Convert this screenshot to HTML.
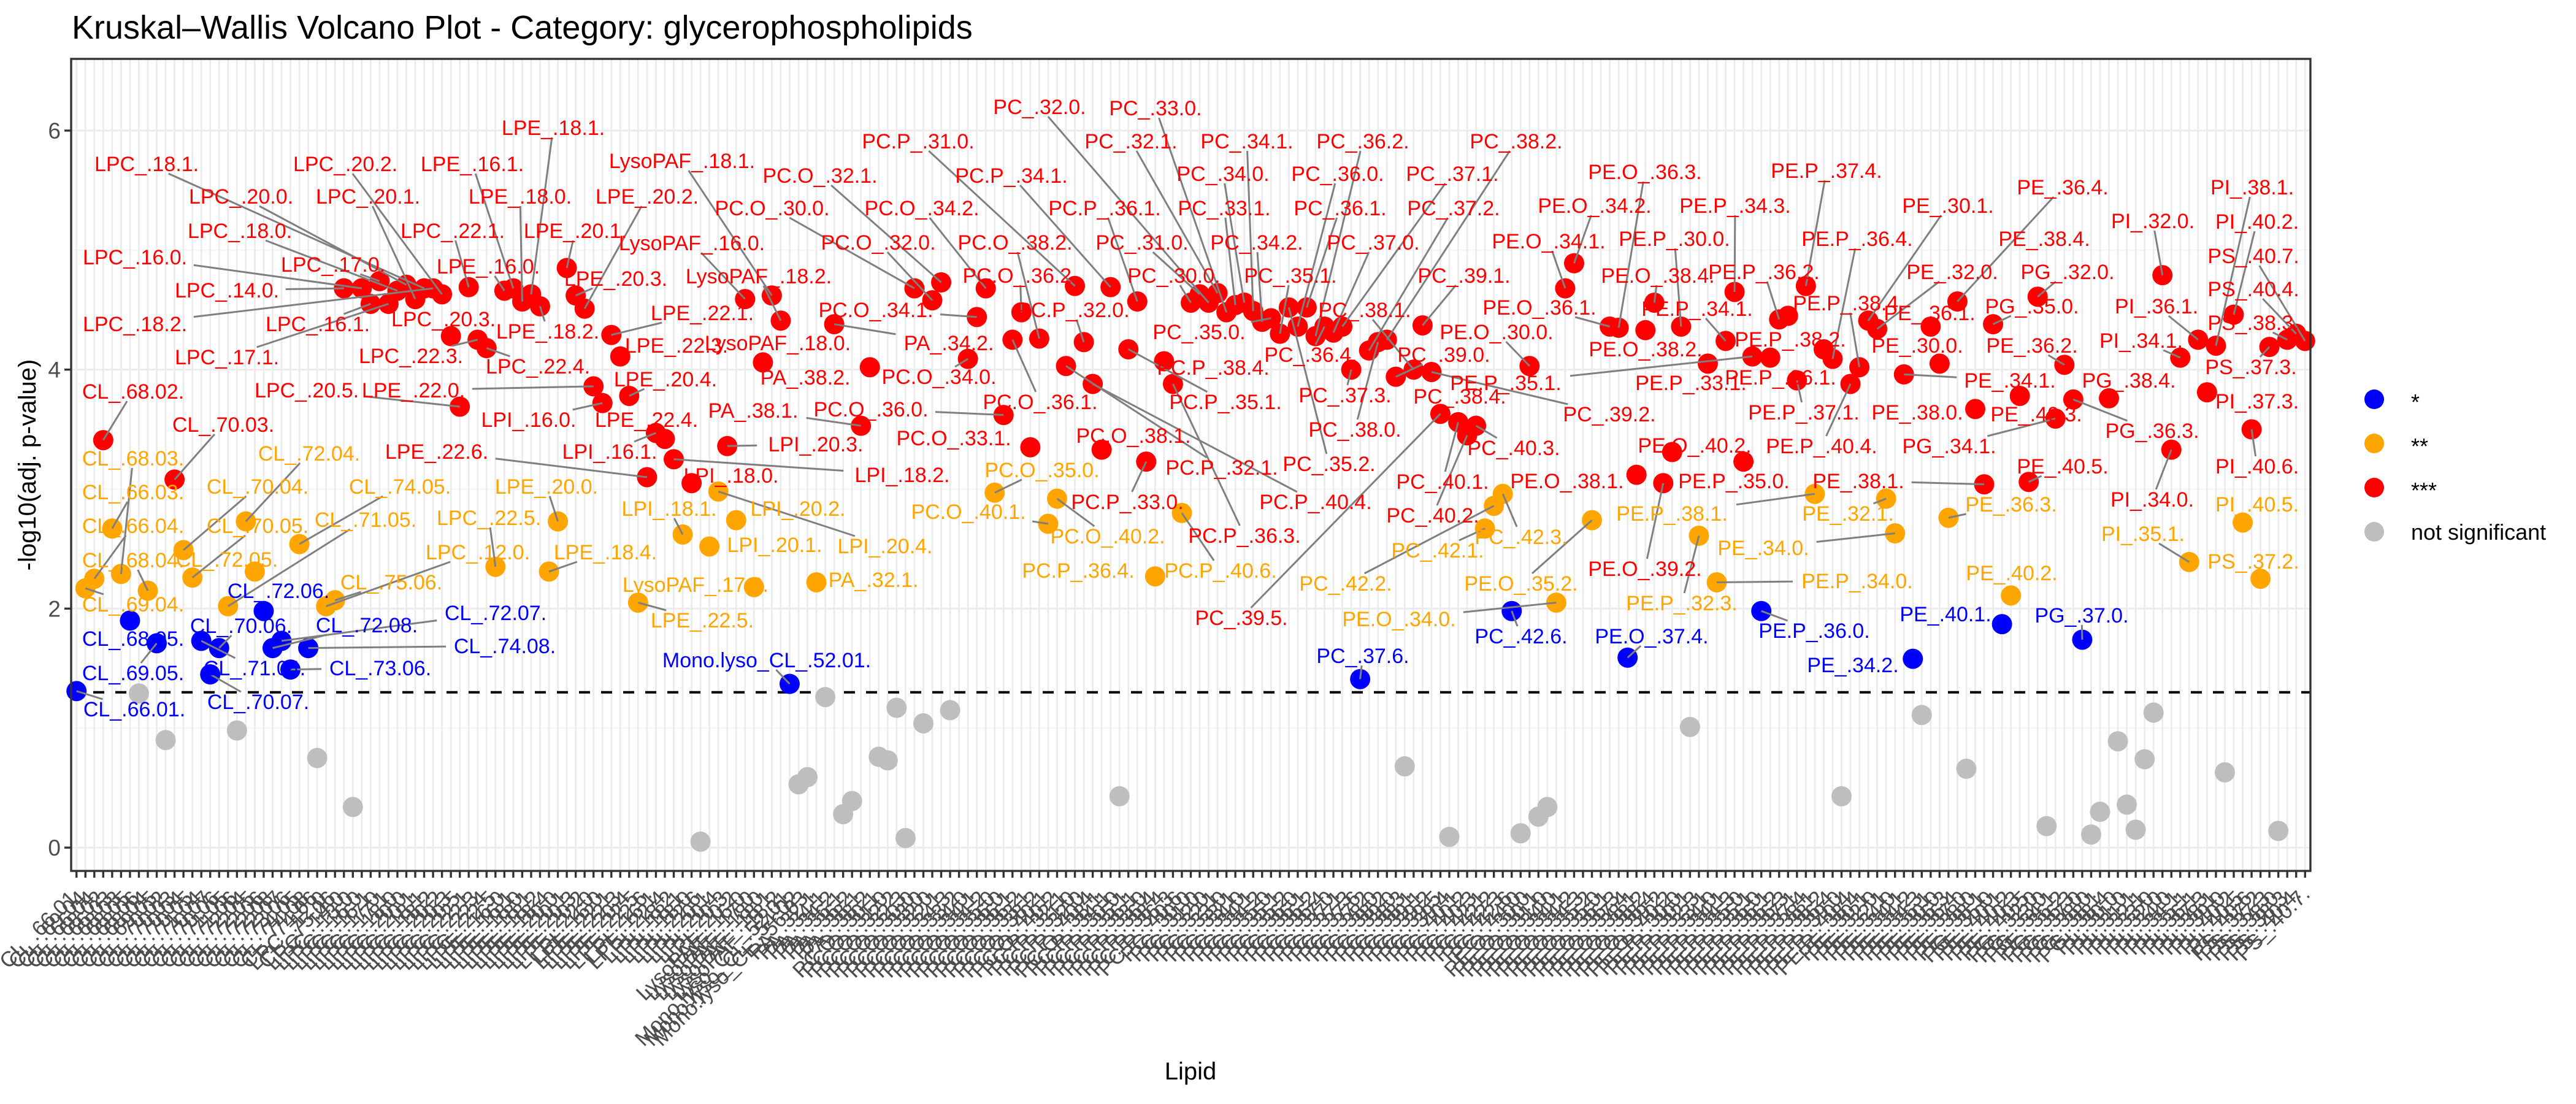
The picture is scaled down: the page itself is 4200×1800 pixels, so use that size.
<!DOCTYPE html>
<html><head><meta charset="utf-8"><title>Kruskal–Wallis Volcano Plot</title>
<style>
html,body{margin:0;padding:0;background:#fff;}
svg{display:block;font-family:"Liberation Sans",Arial,sans-serif;}
</style></head>
<body>
<svg id="chart" width="4200" height="1800" viewBox="0 0 4200 1800" xmlns="http://www.w3.org/2000/svg">
<rect x="0" y="0" width="4200" height="1800" fill="#fff"/>
<text x="117" y="63" font-size="54" fill="#000">Kruskal–Wallis Volcano Plot - Category: glycerophospholipids</text>
<g id="grid"></g>
<g id="marks"></g>
<g id="segs"></g>
<g id="labels"></g>
<g id="axes"></g>
<text transform="translate(58,758) rotate(-90)" text-anchor="middle" font-size="40" fill="#000">-log10(adj. p-value)</text>
<text x="1941" y="1760" text-anchor="middle" font-size="40" fill="#000">Lipid</text>
<g>
 <g><circle cx="3871" cy="651" r="16" fill="#0000FF"/><text x="3931" y="668" font-size="36">*</text></g>
 <g><circle cx="3871" cy="723" r="16" fill="#FFA500"/><text x="3931" y="740" font-size="36">**</text></g>
 <g><circle cx="3871" cy="795" r="16" fill="#FF0000"/><text x="3931" y="812" font-size="36">***</text></g>
 <g><circle cx="3871" cy="867" r="16" fill="#BEBEBE"/><text x="3931" y="880" font-size="36">not significant</text></g>
</g>
</svg>
<script>
const categories = ("CL_.66.01. CL_.69.04. CL_.66.04. CL_.68.02. CL_.66.03. CL_.68.03. CL_.68.05. CL_.68.06. CL_.68.04. CL_.69.05. " +
"CL_.70.02. CL_.70.03. CL_.70.04. CL_.70.05. CL_.71.04. CL_.70.07. CL_.70.06. CL_.71.05. CL_.71.06. CL_.72.04. " +
"CL_.72.05. CL_.72.06. CL_.72.08. CL_.72.07. CL_.73.06. CL_.74.05. CL_.74.08. CL_.74.06. LPC_.12.0. CL_.75.06. " +
"LPC_.14.0. LPC_.13.0. LPC_.16.0. LPC_.16.1. LPC_.17.0. LPC_.17.1. LPC_.18.0. LPC_.20.0. LPC_.20.1. LPC_.18.1. " +
"LPC_.18.2. LPC_.20.2. LPC_.20.3. LPC_.20.5. LPC_.22.1. LPC_.22.3. LPC_.22.4. LPC_.22.5. LPE_.16.0. LPE_.16.1. " +
"LPE_.18.0. LPE_.18.1. LPE_.18.2. LPE_.18.4. LPE_.20.0. LPE_.20.1. LPE_.20.3. LPE_.20.2. LPE_.22.0. LPI_.16.0. " +
"LPE_.22.1. LPE_.22.3. LPE_.20.4. LPE_.22.5. LPE_.22.6. LPI_.16.1. LPE_.22.4. LPI_.18.2. LPI_.18.1. LPI_.18.0. " +
"LPI_.22.6. LPI_.20.1. LPI_.20.4. LPI_.20.3. LPI_.20.2. LysoPAF_.16.0. LysoPAF_.17.0. LysoPAF_.18.0. LysoPAF_.18.1. LysoPAF_.18.2. " +
"Mono.lyso_CL_.52.01. Mono.lyso_CL_.54.02. Mono.lyso_CL_.56.03. PA_.32.1. PA_.34.1. PA_.34.2. PA_.36.1. PA_.36.2. PA_.38.1. PA_.38.2. " +
"PC.O_.30.1. PC.O_.31.0. PC.O_.32.2. PC.O_.32.3. PC.O_.30.0. PC.O_.33.0. PC.O_.32.0. PC.O_.32.1. PC.O_.34.3. PC.O_.33.2. " +
"PC.O_.34.0. PC.O_.34.1. PC.O_.34.2. PC.O_.35.0. PC.O_.36.0. PC.O_.36.1. PC.O_.36.2. PC.O_.33.1. PC.O_.38.2. PC.O_.40.1. " +
"PC.O_.40.2. PC.P_.32.1. PC.P_.31.0. PC.P_.32.0. PC.P_.40.4. PC.O_.38.1. PC.P_.34.1. PC.P_.30.0. PC.P_.35.1. PC.P_.36.1. " +
"PC.P_.33.0. PC.P_.36.4. PC.P_.38.4. PC.P_.36.3. PC.P_.40.6. PC_.30.0. PC_.31.0. PC_.32.0. PC_.32.1. PC_.33.0. " +
"PC_.33.1. PC_.34.0. PC_.34.1. PC_.34.2. PC_.35.0. PC_.35.1. PC_.35.2. PC_.36.0. PC_.36.1. PC_.36.2. " +
"PC_.36.4. PC_.37.0. PC_.37.1. PC_.37.3. PC_.37.6. PC_.37.2. PC_.38.0. PC_.38.2. PC_.39.0. PC_.38.3. " +
"PC_.38.1. PC_.39.1. PC_.39.2. PC_.39.5. PC_.39.4. PC_.40.1. PC_.40.2. PC_.40.3. PC_.42.1. PC_.42.2. " +
"PC_.42.3. PC_.42.6. PC_.44.0. PE.O_.30.0. PE.O_.30.1. PE.O_.31.0. PE.O_.34.0. PE.O_.34.1. PE.O_.34.2. PE.O_.34.3. " +
"PE.O_.35.2. PE.O_.35.0. PE.O_.36.1. PE.O_.36.3. PE.O_.37.4. PE.O_.38.1. PE.O_.38.2. PE.O_.38.4. PE.O_.39.2. PE.O_.40.2. " +
"PE.P_.30.0. PE.P_.30.1. PE.P_.32.3. PE.P_.33.1. PE.P_.34.0. PE.P_.34.1. PE.P_.34.3. PE.P_.35.0. PE.P_.35.1. PE.P_.36.0. " +
"PE.P_.36.1. PE.P_.36.2. PE.P_.36.3. PE.P_.37.1. PE.P_.37.4. PE.P_.38.1. PE.P_.38.2. PE.P_.36.4. PE.P_.39.0. PE.P_.40.4. " +
"PE.P_.38.4. PE_.30.1. PE_.32.0. PE_.32.1. PE_.34.0. PE_.34.1. PE_.34.2. PE_.34.3. PE_.36.1. PE_.30.0. " +
"PE_.36.3. PE_.36.4. PE_.37.0. PE_.38.0. PE_.38.1. PG_.35.0. PE_.40.1. PE_.40.2. PE_.40.3. PE_.40.5. " +
"PG_.32.0. PG_.33.0. PG_.34.1. PE_.36.2. PG_.36.3. PG_.37.0. PG_.38.0. PG_.38.1. PG_.38.4. PI_.30.0. " +
"PI_.31.0. PI_.31.1. PI_.32.1. PI_.33.0. PI_.32.0. PI_.34.0. PI_.34.1. PI_.35.1. PI_.36.1. PI_.37.3. " +
"PI_.38.1. PI_.39.0. PI_.40.2. PI_.40.5. PI_.40.6. PS_.37.2. PS_.37.3. PS_.38.0. PS_.38.3. PS_.40.4. PS_.40.7.").split(" ");

const values = [
1.31,2.17,2.25,3.41,2.67,2.29,1.90,1.29,2.15,1.71,
0.90,3.08,2.49,2.26,1.73,1.45,1.67,2.02,0.98,2.73,
2.31,1.98,1.67,1.73,1.49,2.54,1.67,0.75,2.02,2.07,
4.68,0.34,4.68,4.55,4.74,4.55,4.66,4.71,4.59,4.68,
4.68,4.63,4.28,3.69,4.69,4.25,4.18,2.35,4.66,4.68,
4.57,4.63,4.53,2.31,2.73,4.85,4.62,4.51,3.86,3.72,
4.29,4.11,3.78,2.05,3.10,3.47,3.42,3.25,2.62,3.05,
0.05,2.52,2.98,3.36,2.74,4.59,2.18,4.06,4.62,4.41,
1.37,0.53,0.59,2.22,1.26,4.38,0.28,0.39,3.53,4.02,
0.76,0.73,1.17,0.08,4.68,1.04,4.58,4.73,1.15,null,
4.09,4.44,4.68,2.97,3.62,4.25,4.48,3.35,4.26,2.71,
2.92,4.03,4.70,4.23,3.88,3.33,4.69,0.43,4.17,4.57,
3.23,2.27,4.07,3.88,2.80,4.56,4.63,4.56,4.64,4.48,
4.54,4.56,4.49,4.40,4.43,4.30,4.52,4.36,4.52,4.28,
4.36,4.31,4.36,4.00,1.41,4.16,4.23,4.25,3.94,0.68,
4.00,4.37,3.98,3.63,0.09,3.56,3.45,3.53,2.67,2.86,
2.96,1.98,0.12,4.03,0.26,0.34,2.05,4.68,4.89,null,
2.74,null,4.36,4.35,1.59,3.12,4.33,4.56,3.05,3.31,
4.36,1.01,2.61,4.05,2.22,4.24,4.65,3.23,4.11,1.98,
4.10,4.42,4.45,3.91,4.70,2.96,4.17,4.09,0.43,3.88,
4.02,4.41,4.34,2.92,2.63,3.96,1.58,1.11,4.36,4.05,
2.76,4.57,0.66,3.67,3.04,4.38,1.87,2.11,3.78,3.06,
4.61,0.18,3.59,4.04,3.75,1.74,0.11,0.30,3.76,0.89,
0.36,0.15,0.74,1.13,4.79,3.33,4.10,2.39,4.25,3.81,
4.20,0.63,4.46,2.72,3.50,2.25,4.19,0.14,4.25,4.30,
4.24];

const yTicks = [0, 2, 4, 6];
const yMinor = [1, 3, 5];
const threshold = 1.3;
const sigBreaks = [1.3, 2, 3];

// label placements (layout only): [text, centerX, centerY, colorKey]
const labels = [
["LPC_.18.1.",239,267,"r"],["LPC_.20.2.",563,267,"r"],["LPE_.16.1.",770,267,"r"],["LPE_.18.1.",902,208,"r"],["LysoPAF_.18.1.",1112,262,"r"],
["LPC_.20.0.",393,320,"r"],["LPC_.20.1.",600,320,"r"],["LPE_.18.0.",848,320,"r"],["LPE_.20.2.",1055,320,"r"],
["LPC_.18.0.",391,376,"r"],["LPC_.22.1.",738,376,"r"],["LPE_.20.1.",938,376,"r"],["LysoPAF_.16.0.",1128,396,"r"],
["LPC_.16.0.",220,419,"r"],["LPC_.17.0.",543,431,"r"],["LPE_.16.0.",796,434,"r"],["LPE_.20.3.",1004,454,"r"],["LysoPAF_.18.2.",1237,450,"r"],
["LPC_.14.0.",370,473,"r"],["LPC_.18.2.",220,528,"r"],["LPC_.16.1.",518,528,"r"],["LPC_.20.3.",723,520,"r"],["LPE_.18.2.",893,540,"r"],["LPE_.22.1.",1145,510,"r"],
["LPC_.17.1.",370,582,"r"],["LPC_.22.3.",670,580,"r"],["LPE_.22.3.",1103,563,"r"],["LysoPAF_.18.0.",1268,559,"r"],
["LPC_.22.4.",877,597,"r"],["LPE_.20.4.",1085,618,"r"],["PA_.38.2.",1313,615,"r"],
["LPC_.20.5.",500,636,"r"],["LPE_.22.0.",674,636,"r"],["LPI_.16.0.",862,684,"r"],["LPE_.22.4.",1054,684,"r"],["PA_.38.1.",1228,669,"r"],
["CL_.68.02.",217,638,"r"],["CL_.70.03.",364,692,"r"],["LPE_.22.6.",712,736,"r"],["LPI_.16.1.",994,736,"r"],["LPI_.20.3.",1330,724,"r"],["LPI_.18.0.",1192,775,"r"],["LPI_.18.2.",1471,774,"r"],
["CL_.68.03.",217,747,"o"],["CL_.72.04.",504,739,"o"],["CL_.66.03.",217,802,"o"],["CL_.70.04.",420,793,"o"],["CL_.74.05.",652,793,"o"],["LPE_.20.0.",891,793,"o"],
["CL_.66.04.",217,857,"o"],["CL_.70.05.",420,857,"o"],["CL_.72.05.",370,912,"o"],["CL_.71.05.",596,847,"o"],["LPC_.22.5.",797,844,"o"],["LPC_.12.0.",779,900,"o"],
["CL_.68.04.",217,913,"o"],["CL_.69.04.",217,985,"o"],["LPI_.18.1.",1091,829,"o"],["LPI_.20.2.",1301,829,"o"],["LPI_.20.1.",1263,888,"o"],["LPE_.18.4.",987,900,"o"],
["LysoPAF_.17.0.",1134,953,"o"],["LPE_.22.5.",1145,1011,"o"],["PA_.32.1.",1424,945,"o"],["LPI_.20.4.",1443,890,"o"],["CL_.75.06.",638,949,"o"],
["CL_.72.06.",454,963,"b"],["CL_.70.06.",393,1020,"b"],["CL_.72.08.",598,1019,"b"],["CL_.72.07.",808,999,"b"],["CL_.74.08.",823,1053,"b"],["CL_.68.05.",217,1041,"b"],
["CL_.69.05.",217,1097,"b"],["CL_.71.04.",415,1089,"b"],["CL_.73.06.",620,1089,"b"],["CL_.70.07.",421,1144,"b"],["CL_.66.01.",219,1156,"b"],["Mono.lyso_CL_.52.01.",1250,1076,"b"],
["PC_.32.0.",1695,174,"r"],["PC_.33.0.",1884,176,"r"],["PC.P_.31.0.",1497,230,"r"],["PC_.32.1.",1844,230,"r"],["PC_.34.1.",2033,230,"r"],["PC_.36.2.",2222,230,"r"],["PC_.38.2.",2472,230,"r"],
["PC.O_.32.1.",1337,286,"r"],["PC.P_.34.1.",1649,286,"r"],["PC_.34.0.",1994,283,"r"],["PC_.36.0.",2181,283,"r"],["PC_.37.1.",2368,283,"r"],
["PC.O_.30.0.",1259,339,"r"],["PC.O_.34.2.",1503,339,"r"],["PC.P_.36.1.",1801,339,"r"],["PC_.33.1.",1996,339,"r"],["PC_.36.1.",2185,339,"r"],["PC_.37.2.",2370,339,"r"],
["PC.O_.32.0.",1432,395,"r"],["PC.O_.38.2.",1655,395,"r"],["PC_.31.0.",1862,395,"r"],["PC_.34.2.",2049,395,"r"],["PC_.37.0.",2239,395,"r"],
["PC.O_.36.2.",1663,449,"r"],["PC_.30.0.",1914,449,"r"],["PC_.35.1.",2104,449,"r"],["PC_.39.1.",2387,449,"r"],
["PC.O_.34.1.",1428,505,"r"],["PC.P_.32.0.",1750,505,"r"],["PC_.38.1.",2225,505,"r"],["PC_.35.0.",1955,541,"r"],["PA_.34.2.",1547,559,"r"],["PC_.36.4.",2137,578,"r"],["PC_.39.0.",2354,578,"r"],
["PC.O_.34.0.",1531,614,"r"],["PC.P_.38.4.",1978,599,"r"],["PC_.37.3.",2193,644,"r"],["PC_.38.4.",2380,646,"r"],
["PC.O_.36.0.",1420,667,"r"],["PC.O_.36.1.",1696,655,"r"],["PC.P_.35.1.",1998,655,"r"],["PC_.38.0.",2209,700,"r"],["PC_.40.3.",2468,730,"r"],
["PC.O_.33.1.",1555,714,"r"],["PC.O_.38.1.",1848,710,"r"],["PC_.35.2.",2167,756,"r"],["PC.P_.32.1.",1992,762,"r"],["PC_.40.1.",2352,785,"r"],
["PC.P_.40.4.",2145,818,"r"],["PC.P_.33.0.",1838,818,"r"],["PC_.40.2.",2336,840,"r"],["PC.P_.36.3.",2029,873,"r"],["PC_.39.5.",2024,1007,"r"],
["PC.O_.35.0.",1699,766,"o"],["PC.O_.40.1.",1579,834,"o"],["PC.O_.40.2.",1806,874,"o"],["PC.P_.36.4.",1758,930,"o"],["PC.P_.40.6.",1990,930,"o"],["PC_.42.1.",2344,897,"o"],["PC_.42.2.",2194,951,"o"],
["PC_.37.6.",2222,1069,"b"],
["PE.O_.36.3.",2682,280,"r"],["PE.P_.37.4.",2978,278,"r"],["PE_.36.4.",3363,305,"r"],["PI_.38.1.",3672,305,"r"],
["PE.O_.34.2.",2600,335,"r"],["PE.P_.34.3.",2829,335,"r"],["PE_.30.1.",3176,335,"r"],["PI_.32.0.",3510,360,"r"],["PI_.40.2.",3680,361,"r"],
["PE.O_.34.1.",2525,393,"r"],["PE.P_.30.0.",2730,389,"r"],["PE.P_.36.4.",3028,389,"r"],["PE_.38.4.",3333,389,"r"],["PS_.40.7.",3674,417,"r"],
["PE.O_.38.4.",2703,449,"r"],["PE.P_.36.2.",2876,443,"r"],["PE_.32.0.",3183,443,"r"],["PG_.32.0.",3371,443,"r"],["PS_.40.4.",3674,471,"r"],
["PE.O_.36.1.",2510,501,"r"],["PE.P_.34.1.",2767,503,"r"],["PE.P_.38.4.",3014,494,"r"],["PE_.36.1.",3146,510,"r"],["PG_.35.0.",3313,499,"r"],["PI_.36.1.",3516,499,"r"],["PS_.38.3.",3674,526,"r"],
["PE.O_.30.0.",2440,541,"r"],["PE.O_.38.2.",2683,569,"r"],["PE.P_.38.2.",2919,553,"r"],["PE_.30.0.",3126,563,"r"],["PE_.36.2.",3313,563,"r"],["PI_.34.1.",3491,555,"r"],
["PE.P_.35.1.",2455,624,"r"],["PE.P_.33.1.",2757,624,"r"],["PE.P_.36.1.",2903,615,"r"],["PE_.34.1.",3277,620,"r"],["PG_.38.4.",3471,620,"r"],["PS_.37.3.",3670,598,"r"],
["PC_.39.2.",2624,675,"r"],["PE.P_.37.1.",2941,672,"r"],["PE_.38.0.",3126,672,"r"],["PE_.40.3.",3320,675,"r"],["PI_.37.3.",3680,654,"r"],["PG_.36.3.",3509,702,"r"],
["PE.O_.40.2.",2763,726,"r"],["PE.P_.40.4.",2970,727,"r"],["PG_.34.1.",3178,727,"r"],["PE_.40.5.",3363,760,"r"],["PI_.40.6.",3680,760,"r"],
["PE.O_.38.1.",2555,784,"r"],["PE.P_.35.0.",2827,784,"r"],["PE_.38.1.",3030,784,"r"],["PI_.34.0.",3509,814,"r"],["PE.O_.39.2.",2682,927,"r"],
["PE.P_.38.1.",2726,837,"o"],["PE_.32.1.",3013,837,"o"],["PE_.36.3.",3279,822,"o"],["PI_.40.5.",3680,822,"o"],["PC_.42.3.",2480,875,"o"],["PI_.35.1.",3494,870,"o"],
["PE_.34.0.",2875,893,"o"],["PS_.37.2.",3674,915,"o"],["PE_.40.2.",3280,934,"o"],["PE.P_.34.0.",3028,947,"o"],["PE.O_.35.2.",2480,951,"o"],["PE.P_.32.3.",2742,983,"o"],["PE.O_.34.0.",2281,1009,"o"],
["PE_.40.1.",3172,1001,"b"],["PG_.37.0.",3394,1003,"b"],["PC_.42.6.",2480,1037,"b"],["PE.O_.37.4.",2693,1037,"b"],["PE.P_.36.0.",2958,1028,"b"],["PE_.34.2.",3021,1084,"b"]
];

const NS = "http://www.w3.org/2000/svg";
const plot = {left:116, right:3767, top:96, bottom:1420};
const yMin = -0.195, yMax = 6.6;
const n = categories.length;
function xScale(i){ const step = (plot.right-plot.left)/(n-1+1.2); return plot.left + (i+0.6)*step; }
function yScale(v){ return plot.bottom - (v - yMin)/(yMax - yMin)*(plot.bottom-plot.top); }
function colorFor(v){ if (v < sigBreaks[0]) return "#BEBEBE"; if (v < sigBreaks[1]) return "#0000FF"; if (v < sigBreaks[2]) return "#FFA500"; return "#FF0000"; }
const colorKey = {r:"#FF0000", o:"#FFA500", b:"#0000FF"};
function mk(tag, attrs, parent){ const e = document.createElementNS(NS, tag); for (const k in attrs) e.setAttribute(k, attrs[k]); parent.appendChild(e); return e; }

const grid = document.getElementById("grid");
const gbg = mk("rect",{x:plot.left,y:plot.top,width:plot.right-plot.left,height:plot.bottom-plot.top,fill:"#fff"},grid);


yMinor.forEach(v => {
  const l = mk("line",{x1:plot.left,x2:plot.right,y1:yScale(v),y2:yScale(v),stroke:"#f2f2f2","stroke-width":1.5},grid);
  
  
});
yTicks.forEach(v => {
  const l = mk("line",{x1:plot.left,x2:plot.right,y1:yScale(v),y2:yScale(v),stroke:"#ebebeb","stroke-width":3},grid);
  
  
});
for (let i=0;i<n;i++){
  const l = mk("line",{x1:xScale(i),x2:xScale(i),y1:plot.top,y2:plot.bottom,stroke:"#ebebeb","stroke-width":2.7},grid);
  
  
}
const dash = mk("line",{x1:plot.left,x2:plot.right,y1:yScale(threshold),y2:yScale(threshold),stroke:"#000","stroke-width":4,"stroke-dasharray":"18 18"},grid);



const marks = document.getElementById("marks");
for (let i=0;i<n;i++){
  if (values[i] === null || values[i] === undefined) continue;
  const c = mk("circle",{cx:xScale(i),cy:yScale(values[i]),r:16.5,fill:colorFor(values[i])},marks);
  
  
}

const segs = document.getElementById("segs");
const labG = document.getElementById("labels");
const FS = 34;
labels.forEach(L => {
  const [txt, cx, cy, ck] = L;
  const idx = categories.indexOf(txt);
  if (idx >= 0 && values[idx] !== null) {
    const px = xScale(idx), py = yScale(values[idx]);
    const dx = px - cx, dy = py - cy;
    const hw = txt.length*FS*0.27 + 4, hh = 16;
    const t = Math.min(Math.abs(dx) > 0 ? hw/Math.abs(dx) : 9, Math.abs(dy) > 0 ? hh/Math.abs(dy) : 9);
    const dist = Math.hypot(dx,dy);
    if (t < 1 && dist*(1-t) > 22) {
      const s = mk("line",{x1:cx+dx*t,y1:cy+dy*t,x2:px,y2:py,stroke:"#7f7f7f","stroke-width":3},segs);
      
      
    }
  }
  const te = mk("text",{x:cx,y:cy+12,"text-anchor":"middle","font-size":FS,fill:colorKey[ck]},labG);
  te.textContent = txt;
  
  
});

const axes = document.getElementById("axes");
const border = mk("rect",{x:plot.left,y:plot.top,width:plot.right-plot.left,height:plot.bottom-plot.top,fill:"none",stroke:"#333","stroke-width":3.4},axes);


yTicks.forEach(v => {
  const t = mk("line",{x1:plot.left-11,x2:plot.left,y1:yScale(v),y2:yScale(v),stroke:"#333","stroke-width":3.4},axes);
  
  
  const tx = mk("text",{x:plot.left-17,y:yScale(v)+13,"text-anchor":"end","font-size":37,fill:"#4d4d4d"},axes);
  tx.textContent = String(v);
  
  
});
for (let i=0;i<n;i++){
  const x = xScale(i);
  const t = mk("line",{x1:x,x2:x,y1:plot.bottom,y2:plot.bottom+11,stroke:"#333","stroke-width":3.4},axes);
  
  
  const tx = mk("text",{x:x+10,y:plot.bottom+40,"text-anchor":"end","font-size":35,fill:"#4d4d4d",transform:"rotate(-45 "+(x+10)+" "+(plot.bottom+40)+")"},axes);
  tx.textContent = categories[i];
  
  
}
</script>
</body></html>
